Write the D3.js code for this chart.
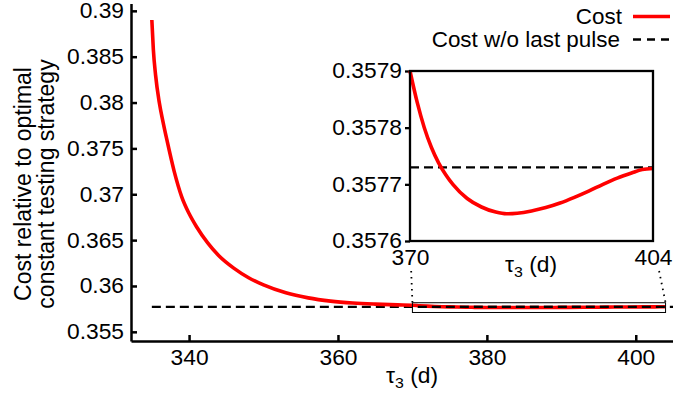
<!DOCTYPE html>
<html>
<head>
<meta charset="utf-8">
<script src="https://cdn.jsdelivr.net/npm/d3@7"></script>
<style>
  html, body { margin: 0; padding: 0; background: #fff; }
  svg { display: block; }
  text { font-family: "Liberation Sans", Arial, Helvetica, sans-serif; fill: #000; }
</style>
</head>
<body>
<div id="chart"></div>
<script>
// values
const costDays = [335, 335.2, 335.5, 336, 336.5, 337, 338, 339, 340, 341, 342.5, 344, 346, 348, 350, 353, 356, 359, 362, 365, 368,
  370, 371, 372, 373, 374, 375, 376, 378, 380, 382, 383.5, 385, 387, 389, 391, 393, 395, 397, 399, 401, 402.5, 404];
const costValues = [0.3890, 0.3858, 0.3830, 0.3800, 0.3779, 0.3760, 0.3725, 0.36975, 0.3679, 0.36646, 0.3647, 0.3633, 0.36195, 0.3609, 0.36011,
  0.35925, 0.3587, 0.35835, 0.35814, 0.35802, 0.35794,
  0.357900, 0.357845, 0.357800, 0.357765, 0.357738, 0.357717, 0.357700, 0.357675, 0.357660, 0.357651, 0.357648, 0.357649,
  0.357653, 0.357659, 0.357667, 0.357677, 0.357688, 0.357700, 0.357711, 0.357720, 0.357726, 0.357728];
const noPulseDays = [335, 405];
const noPulseValues = [0.35773, 0.35773];

const mainXTicks = [340, 360, 380, 400];
const mainYTicks = [0.355, 0.36, 0.365, 0.37, 0.375, 0.38, 0.385, 0.39];
const insetXTicks = [370, 404];
const insetYTicks = [0.3576, 0.3577, 0.3578, 0.3579];
const zoomDays = [370, 404];
const zoomValues = [0.3576, 0.3579];

const legendLabels = ['Cost', 'Cost w/o last pulse'];
const xLabelMain = 'τ', xLabelSub = '3', xLabelUnit = ' (d)';
const yLabelLines = ['Cost relative to optimal', 'constant testing strategy'];

var width = 673, height = 396;
var K = 1.06;         // the reference type is a little wide
var FS = 21.5;
var RED = '#ff0000';

var svg = d3.select('#chart').append('svg')
  .attr('width', width).attr('height', height);

var x = d3.scaleLinear().domain([332.2, 405]).range([131, 673]);
var y = d3.scaleLinear().domain([0.354, 0.3908]).range([341, 3.5]);

var xi = d3.scaleLinear().domain(zoomDays).range([410, 653]);
var yi = d3.scaleLinear().domain(zoomValues).range([241, 71]);

var cost = costDays.map((d, i) => ({x: d, y: costValues[i]}));
var noPulse = noPulseDays.map((d, i) => ({x: d, y: noPulseValues[i]}));

function styleAxis(g, w) {
  g.selectAll('.domain').attr('stroke', '#000').attr('stroke-width', w);
  g.selectAll('.tick line').attr('stroke', '#000').attr('stroke-width', w);
  g.selectAll('text').attr('font-size', FS).attr('font-family', null).attr('fill', '#000')
    .attr('transform', 'scale(' + K + ',1)');
}

// main axes
var gx = svg.append('g').attr('transform', 'translate(0,' + y.range()[0] + ')')
  .call(d3.axisBottom(x).tickValues(mainXTicks).tickSize(-6).tickSizeOuter(0).tickPadding(9));
styleAxis(gx, 2.5);

var gy = svg.append('g').attr('transform', 'translate(' + x.range()[0] + ',0)')
  .call(d3.axisLeft(y).tickValues(mainYTicks).tickSize(-6).tickSizeOuter(0).tickPadding(7)
    .tickFormat(d3.format('.3~f')));
styleAxis(gy, 2.5);
gy.selectAll('text').attr('x', -7 / K);

// main lines
var line = d3.line().x(d => x(d.x)).y(d => y(d.y)).curve(d3.curveMonotoneX);

svg.append('path').datum(noPulse)
  .attr('d', line).attr('fill', 'none')
  .attr('stroke', '#000').attr('stroke-width', 2.3).attr('stroke-dasharray', '9,5');

svg.append('path').datum(cost)
  .attr('d', line).attr('fill', 'none')
  .attr('stroke', RED).attr('stroke-width', 3.6);

svg.append('path').datum(noPulse)
  .attr('d', line).attr('fill', 'none')
  .attr('stroke', '#000').attr('stroke-width', 2.3).attr('stroke-dasharray', '9,5')
  .attr('clip-path', 'url(#zoomclip)');

// zoom window in the main plot
var zx0 = x(zoomDays[0]), zx1 = x(zoomDays[1]);
var zy0 = y(zoomValues[1]) - 2.5, zy1 = y(zoomValues[0]) + 4.5;
svg.append('clipPath').attr('id', 'zoomclip')
  .append('rect').attr('x', zx0).attr('y', zy0).attr('width', zx1 - zx0).attr('height', zy1 - zy0);
svg.append('rect')
  .attr('x', zx0).attr('y', zy0).attr('width', zx1 - zx0).attr('height', zy1 - zy0)
  .attr('fill', 'none').attr('stroke', '#000').attr('stroke-width', 1);

// dotted connectors, hidden behind the inset labels near the top
[[xi.range()[0], zx0], [xi.range()[1], zx1]].forEach(function (p) {
  var ya = yi.range()[0], yb = zy0;
  var t = 30 / (yb - ya);
  svg.append('line')
    .attr('x1', p[0] + (p[1] - p[0]) * t).attr('y1', ya + 30)
    .attr('x2', p[1]).attr('y2', yb)
    .attr('stroke', '#000').attr('stroke-width', 1.8)
    .attr('stroke-dasharray', '1.5,4.5');
});

// inset
var inset = svg.append('g');
var gix = inset.append('g').attr('transform', 'translate(0,' + yi.range()[0] + ')')
  .call(d3.axisBottom(xi).tickValues(insetXTicks).tickSize(0).tickPadding(8.5).tickFormat(d3.format('d')));
styleAxis(gix, 2.3);
gix.select('.domain').remove();

var giy = inset.append('g').attr('transform', 'translate(' + xi.range()[0] + ',0)')
  .call(d3.axisLeft(yi).tickValues(insetYTicks).tickSize(5).tickSizeOuter(0).tickPadding(3)
    .tickFormat(d3.format('.4f')));
styleAxis(giy, 2.3);
giy.select('.domain').remove();
giy.selectAll('text').attr('x', -8 / K);

var lineInset = d3.line().x(d => xi(d.x)).y(d => yi(d.y)).curve(d3.curveMonotoneX);
inset.append('path')
  .datum(noPulse.map(d => ({x: Math.min(Math.max(d.x, zoomDays[0]), zoomDays[1]), y: d.y})))
  .attr('d', lineInset).attr('fill', 'none')
  .attr('stroke', '#000').attr('stroke-width', 2.3).attr('stroke-dasharray', '9,5');
inset.append('path')
  .datum(cost.filter(d => d.x >= zoomDays[0] && d.x <= zoomDays[1]))
  .attr('d', lineInset).attr('fill', 'none')
  .attr('stroke', RED).attr('stroke-width', 3.6);

inset.append('rect')
  .attr('x', xi.range()[0]).attr('y', yi.range()[1])
  .attr('width', xi.range()[1] - xi.range()[0]).attr('height', yi.range()[0] - yi.range()[1])
  .attr('fill', 'none').attr('stroke', '#000').attr('stroke-width', 2.3);

// axis titles
function tauLabel(cx, by) {
  var t = svg.append('text')
    .attr('transform', 'translate(' + cx + ',' + by + ') scale(' + K + ',1)')
    .attr('text-anchor', 'middle').attr('font-size', FS);
  t.append('tspan').text(xLabelMain);
  t.append('tspan').attr('font-size', 15).attr('dy', 5).text(xLabelSub);
  t.append('tspan').attr('dy', -5).text(xLabelUnit);
}
tauLabel(412, 383);
tauLabel(531, 272);

var yl = svg.append('text')
  .attr('transform', 'translate(0,184) rotate(-90)')
  .attr('text-anchor', 'middle').attr('font-size', 23);
yl.append('tspan').attr('x', 0).attr('y', 31).text(yLabelLines[0]);
yl.append('tspan').attr('x', 0).attr('y', 54).text(yLabelLines[1]);

// legend
var legend = svg.append('g');
legendLabels.forEach(function (lab, i) {
  var by = 24 + i * 23;
  legend.append('text')
    .attr('transform', 'translate(' + (622 - i * 2) + ',' + by + ') scale(1.02,1)')
    .attr('text-anchor', 'end').attr('font-size', 22).text(lab);
  legend.append('line')
    .attr('x1', 633).attr('x2', 670).attr('y1', by - 7.5).attr('y2', by - 7.5)
    .attr('stroke', i === 0 ? RED : '#000')
    .attr('stroke-width', i === 0 ? 3.6 : 2.3)
    .attr('stroke-dasharray', i === 0 ? null : '8,6');
});
</script>
</body>
</html>
